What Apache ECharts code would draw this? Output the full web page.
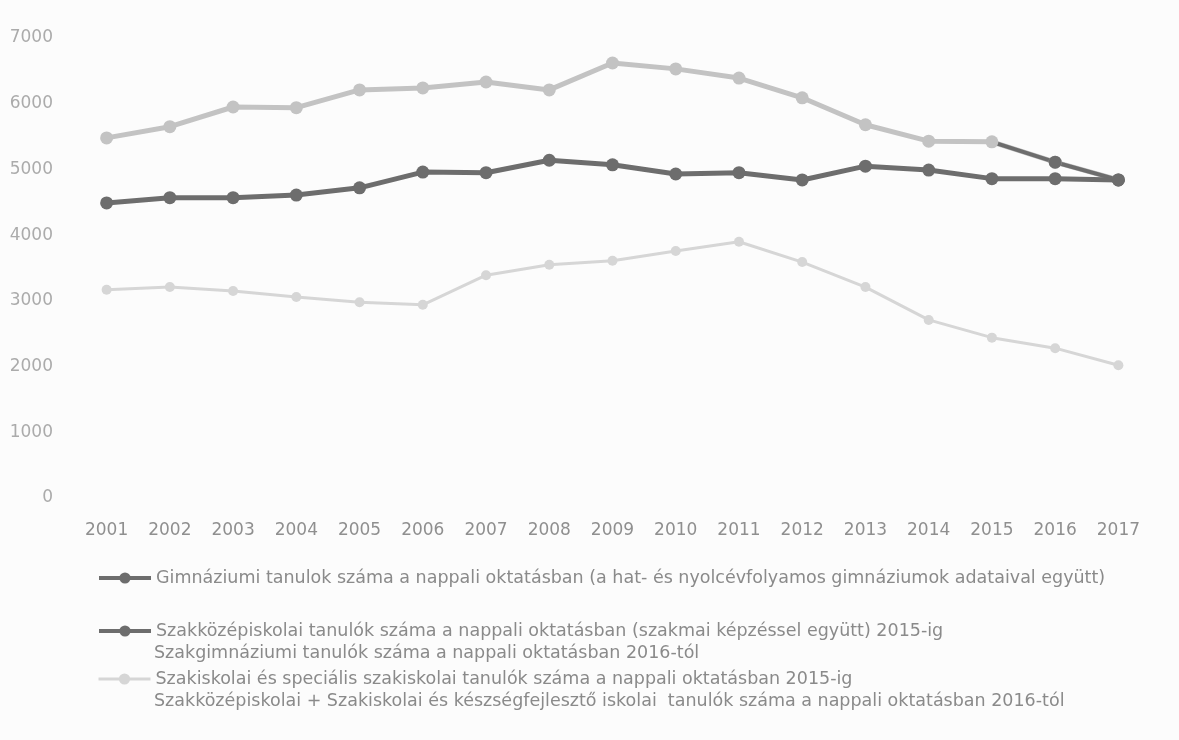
<!DOCTYPE html>
<html>
<head>
<meta charset="utf-8">
<script src="https://cdn.jsdelivr.net/npm/echarts@6/dist/echarts.min.js"></script>
<style>
html,body{margin:0;padding:0;background:#fcfcfc;}
#chart{width:1179px;height:740px;}
</style>
</head>
<body>
<div id="chart"></div>
<script>
const years = ['2001','2002','2003','2004','2005','2006','2007','2008','2009','2010','2011','2012','2013','2014','2015','2016','2017'];
const gimnazium = [4490,4570,4570,4610,4720,4960,4950,5140,5070,4930,4950,4840,5050,4990,4860,4860,4840];
const szakkozep = [5480,5650,5950,5940,6210,6240,6330,6210,6620,6530,6390,6090,5680,5430,5420,5110,4840];
const szakiskola = [3170,3210,3150,3060,2980,2940,3390,3550,3610,3760,3900,3590,3210,2710,2440,2280,2020];

const nameG = 'Gimnáziumi tanulok száma a nappali oktatásban (a hat- és nyolcévfolyamos gimnáziumok adataival együtt)';
const nameK1 = 'Szakközépiskolai tanulók száma a nappali oktatásban (szakmai képzéssel együtt) 2015-ig';
const nameK2 = 'Szakgimnáziumi tanulók száma a nappali oktatásban 2016-tól';
const nameS1 = 'Szakiskolai és speciális szakiskolai tanulók száma a nappali oktatásban 2015-ig';
const nameS2 = 'Szakközépiskolai + Szakiskolai és készségfejlesztő iskolai  tanulók száma a nappali oktatásban 2016-tól';

const dark = '#6d6d6d';
const mid = '#c3c3c3';
const light = '#d6d6d6';
const FONT = 'DejaVu Sans';
const LFS = 17.5;

// overlay for the dark tail of the upper line (2015 -> 2017)
const tail = szakkozep.map((v, i) => i < 14 ? '-' : (i === 14 ? {value: v, symbol: 'none'} : v));

const chart = echarts.init(document.getElementById('chart'), null, {renderer: 'canvas'});
const legendBase = {left: 97, itemWidth: 52, itemHeight: 14, padding: 0, itemGap: 0,
  textStyle: {color: '#8a8a8a', fontFamily: FONT, fontSize: LFS}};
chart.setOption({
  backgroundColor: '#fcfcfc',
  animation: false,
  grid: {left: 75, right: 29, top: 38, bottom: 242},
  xAxis: {
    type: 'category',
    data: years,
    boundaryGap: true,
    axisLine: {show: false},
    axisTick: {show: false},
    axisLabel: {color: '#8f8f8f', fontFamily: FONT, fontSize: 17, margin: 24}
  },
  yAxis: {
    type: 'value',
    min: 0, max: 7000, interval: 1000,
    splitLine: {show: false},
    axisLine: {show: false},
    axisTick: {show: false},
    axisLabel: {color: '#ababab', fontFamily: FONT, fontSize: 17, margin: 22,
      formatter: v => String(v)}
  },
  legend: [
    Object.assign({}, legendBase, {top: 569,
      data: [{name: nameG, lineStyle: {width: 4}}]}),
    Object.assign({}, legendBase, {top: 622,
      data: [{name: nameK1, itemStyle: {color: dark}, lineStyle: {color: dark, width: 4}}]}),
    Object.assign({}, legendBase, {top: 670,
      data: [{name: nameS1, lineStyle: {width: 3}}]})
  ],
  graphic: [
    {type: 'text', left: 154, top: 644, style: {text: nameK2, fill: '#8a8a8a', font: LFS + 'px "' + FONT + '"'}},
    {type: 'text', left: 154, top: 692, style: {text: nameS2, fill: '#8a8a8a', font: LFS + 'px "' + FONT + '"'}}
  ],
  series: [
    {name: nameG, type: 'line', data: gimnazium, symbol: 'circle', symbolSize: 13,
     lineStyle: {color: dark, width: 5}, itemStyle: {color: dark}, z: 3},
    {name: nameK1, type: 'line', data: szakkozep, symbol: 'circle', symbolSize: 13,
     lineStyle: {color: mid, width: 5}, itemStyle: {color: mid}, z: 2},
    {name: '_tail', type: 'line', data: tail, symbol: 'circle', symbolSize: 13,
     lineStyle: {color: dark, width: 4}, itemStyle: {color: dark}, z: 2},
    {name: nameS1, type: 'line', data: szakiskola, symbol: 'circle', symbolSize: 10,
     lineStyle: {color: light, width: 3}, itemStyle: {color: light}, z: 1}
  ]
});
</script>
</body>
</html>
